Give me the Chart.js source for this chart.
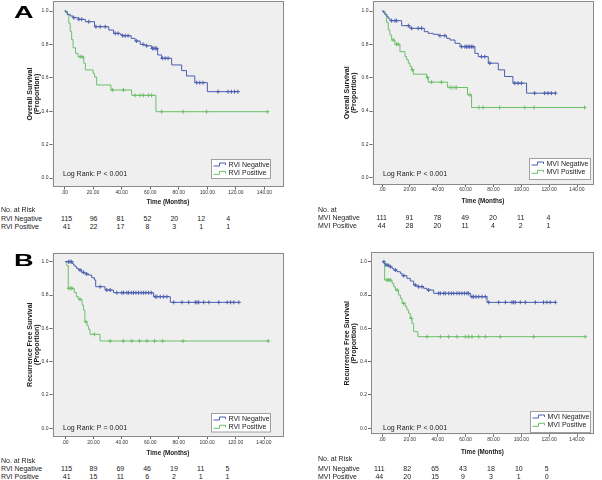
<!DOCTYPE html>
<html><head><meta charset="utf-8">
<script src="https://cdn.jsdelivr.net/npm/chart.js"></script>
<style>
html,body{margin:0;padding:0;background:#fff;}
#wrap{position:relative;width:602px;height:480px;overflow:hidden;font-family:"Liberation Sans",Arial,sans-serif;}
canvas{position:absolute;}
.t{position:absolute;font-size:7px;line-height:7px;color:#1a1a1a;white-space:nowrap;}
.n{position:absolute;font-size:7px;line-height:7px;width:20px;text-align:center;color:#1a1a1a;}
.letter{position:absolute;font-weight:bold;font-size:17px;line-height:17px;transform-origin:left top;transform:scaleX(1.6);color:#000;}
</style></head><body><div id="wrap"></div>
<script>
// ---------- axis ticks ----------
const xTickValues = [0, 20, 40, 60, 80, 100, 120, 140];
const xTickLabels = ['.00', '20.00', '40.00', '60.00', '80.00', '100.00', '120.00', '140.00'];
const yTickValues = [0, 0.2, 0.4, 0.6, 0.8, 1.0];
const yTickLabels = ['0.0', '0.2', '0.4', '0.6', '0.8', '1.0'];

// ---------- A: Overall survival, RVI ----------
const osRviNegTime = [0, 1, 2, 4, 6, 10, 14.6, 21, 31, 34.4, 39, 40.2, 46.7, 49.4, 53, 56.4, 61, 65.2, 68, 75, 82, 85.4, 91.2, 100, 121.4];
const osRviNegSurv = [1, 0.99, 0.98, 0.97, 0.96, 0.95, 0.936, 0.906, 0.886, 0.866, 0.86, 0.852, 0.836, 0.82, 0.80, 0.792, 0.776, 0.737, 0.717, 0.677, 0.643, 0.611, 0.571, 0.517, 0.517];
const osRviNegCens = [6.5, 10, 12, 17, 22, 25, 28.5, 35.5, 37.5, 40.8, 42.5, 44.5, 50.5, 55, 57.5, 61.5, 62.5, 63.5, 64.5, 68.5, 70.5, 72.5, 92.5, 94.7, 97, 107.5, 114.5, 116.8, 119.1, 121.4];
const osRviPosTime = [0, 2, 3, 4, 5, 6, 7.7, 9.5, 13.5, 14.6, 20, 21, 22.5, 32.5, 47, 64, 142];
const osRviPosSurv = [1, 0.976, 0.927, 0.878, 0.829, 0.78, 0.747, 0.726, 0.687, 0.647, 0.627, 0.605, 0.557, 0.527, 0.495, 0.397, 0.397];
const osRviPosCens = [11, 12.5, 33.5, 41.3, 49.4, 52.9, 55.2, 58.7, 61, 68, 83, 99.4, 142];

// ---------- A: Overall survival, MVI ----------
const osMviNegTime = [0, 1, 2.2, 3.5, 4.5, 5.7, 14.1, 20, 30.4, 33.2, 36.8, 40.4, 46.4, 48.8, 52.4, 56, 66.7, 69.1, 76.3, 83.5, 88, 94, 103.8, 124.5];
const osMviNegSurv = [1, 0.99, 0.98, 0.966, 0.956, 0.942, 0.912, 0.896, 0.876, 0.866, 0.86, 0.852, 0.836, 0.826, 0.806, 0.786, 0.746, 0.726, 0.687, 0.647, 0.607, 0.567, 0.507, 0.507];
const osMviNegCens = [6.9, 9.3, 10.5, 18.9, 21.3, 26, 28.4, 41.6, 45.1, 57.1, 59.5, 60.7, 61.9, 63, 64.3, 65.4, 71.4, 73.8, 77.4, 95.3, 97.7, 100.1, 109.6, 116.8, 119.2, 121.6, 124.5];
const osMviPosTime = [0, 2, 3.3, 4.5, 5.7, 6.9, 9.3, 12.9, 16.5, 17.7, 18.9, 20.1, 21.3, 22.5, 32, 33.2, 47.1, 61.4, 64.3, 145.4];
const osMviPosSurv = [1, 0.977, 0.932, 0.886, 0.856, 0.826, 0.80, 0.756, 0.726, 0.707, 0.687, 0.667, 0.647, 0.621, 0.601, 0.573, 0.541, 0.497, 0.421, 0.421];
const osMviPosCens = [8, 10.5, 11.7, 21.8, 32.7, 35.6, 42.7, 48.8, 50.4, 52.4, 53.6, 63.1, 69.6, 72.6, 84.5, 102.5, 109.2, 145.4];

// ---------- B: Recurrence free survival, RVI ----------
const rfsRviNegTime = [0, 5, 6, 7.1, 8.2, 9.4, 11.8, 14.1, 16.5, 18.8, 20.7, 21.6, 28.2, 34.1, 62.3, 74.1, 122.3];
const rfsRviNegSurv = [1, 0.99, 0.98, 0.97, 0.96, 0.95, 0.936, 0.926, 0.92, 0.904, 0.89, 0.85, 0.83, 0.814, 0.79, 0.756, 0.756];
const rfsRviNegCens = [2.35, 3.5, 4.7, 10.6, 12.9, 15.3, 24.7, 29.4, 31.8, 36.5, 40, 41.2, 43.5, 44.7, 46.6, 48.2, 49.9, 51.7, 53.6, 55.3, 56.9, 58.8, 60.7, 63.5, 64.7, 67, 69.4, 71.7, 76.5, 82.3, 87, 91.7, 92.9, 94.1, 97.6, 101.2, 108.2, 114.1, 116.5, 118.8, 122.3];
const rfsRviPosTime = [0, 1.2, 2.3, 6.5, 8, 9.4, 12, 13, 14, 15.5, 16.5, 17.6, 24.7, 143];
const rfsRviPosSurv = [1, 0.976, 0.84, 0.815, 0.79, 0.774, 0.74, 0.71, 0.64, 0.615, 0.594, 0.564, 0.524, 0.524];
const rfsRviPosCens = [2.6, 4, 4.9, 10.6, 14.6, 20.7, 31.8, 41, 47, 52.5, 57.6, 63, 68.7, 83, 143];

// ---------- B: Recurrence free survival, MVI ----------
const rfsMviNegTime = [0, 1.5, 2.4, 4.8, 7.2, 8.4, 10.8, 13.2, 14.4, 17.9, 20.3, 22.7, 25.1, 29.9, 32.3, 37.1, 63.4, 75.4, 124.4];
const rfsMviNegSurv = [1, 0.99, 0.98, 0.97, 0.96, 0.95, 0.94, 0.93, 0.916, 0.9, 0.884, 0.86, 0.85, 0.84, 0.83, 0.81, 0.79, 0.756, 0.756];
const rfsMviNegCens = [1.4, 2.9, 4.3, 6, 9.6, 15.6, 23.9, 26.3, 28.7, 33.5, 40.7, 41.9, 44.3, 45.5, 47.9, 49.8, 51.5, 53.8, 55.5, 57.4, 59.3, 61, 62.2, 64.6, 65.8, 67.5, 69.4, 71.8, 74.2, 76.6, 83.8, 88.6, 93.3, 94.5, 95.7, 99.3, 102.9, 110.1, 116, 118.4, 120.8, 124.4];
const rfsMviPosTime = [0, 1.9, 7.2, 8.4, 9.6, 11.9, 13.2, 14.4, 16.7, 17.9, 19.1, 20.3, 21.5, 22.7, 25.8, 145.9];
const rfsMviPosSurv = [1, 0.89, 0.87, 0.85, 0.83, 0.80, 0.78, 0.75, 0.73, 0.71, 0.69, 0.66, 0.63, 0.58, 0.55, 0.55];
const rfsMviPosCens = [3.6, 4.8, 6, 10.8, 15.6, 21.1, 32.3, 41.9, 47.9, 53.8, 59.8, 62.2, 64.6, 69.4, 74.2, 84.9, 108.9, 145.9];

// ---------- numbers at risk ----------
const osRviRiskNeg = [115, 96, 81, 52, 20, 12, 4];
const osRviRiskPos = [41, 22, 17, 8, 3, 1, 1];
const osMviRiskNeg = [111, 91, 78, 49, 20, 11, 4];
const osMviRiskPos = [44, 28, 20, 11, 4, 2, 1];
const rfsRviRiskNeg = [115, 89, 69, 46, 19, 11, 5];
const rfsRviRiskPos = [41, 15, 11, 6, 2, 1, 1];
const rfsMviRiskNeg = [111, 82, 65, 43, 18, 10, 5];
const rfsMviRiskPos = [44, 20, 15, 9, 3, 1, 0];

const BLUE = '#4b5eae';
const GREEN = '#6dbf6a';

const panels = [
  { letter: 'A', yTitle: ['Overall Survival', '(Proportion)'], logRank: 'Log Rank: P < 0.001',
    labels: ['RVI Negative', 'RVI Positive'], riskHead: 'No. at Risk',
    neg: [osRviNegTime, osRviNegSurv, osRviNegCens], pos: [osRviPosTime, osRviPosSurv, osRviPosCens],
    riskNeg: osRviRiskNeg, riskPos: osRviRiskPos,
    g: { canvas: {l: 0, t: -9, w: 300, h: 219}, plot: {l: 52.5, r: 283.5, t: 1, b: 187},
         x0: 64.5, x140: 264.5, y1: 11, y0: 178, xTitleY: 202, yTitleX: 30,
         legend: {x: 211, y: 159, w: 59, h: 19}, logRank: {x: 63, y: 174.3},
         letterPos: {x: 14, y: 4}, table: {labelX: 1, rows: [209.7, 218.7, 226.7], nx: 66.7, step: 26.9} } },
  { letter: '', yTitle: ['Overall Survival', '(Proportion)'], logRank: 'Log Rank: P < 0.001',
    labels: ['MVI Negative', 'MVI Positive'], riskHead: 'No. at',
    neg: [osMviNegTime, osMviNegSurv, osMviNegCens], pos: [osMviPosTime, osMviPosSurv, osMviPosCens],
    riskNeg: osMviRiskNeg, riskPos: osMviRiskPos,
    g: { canvas: {l: 300, t: -9, w: 302, h: 219}, plot: {l: 372.5, r: 593.5, t: 1, b: 184.5},
         x0: 382, x140: 577, y1: 11, y0: 177.7, xTitleY: 201.7, yTitleX: 346.7,
         legend: {x: 529, y: 158, w: 61, h: 21}, logRank: {x: 383, y: 174.3},
         table: {labelX: 318, rows: [209.3, 217.5, 225.8], nx: 381.7, step: 27.8} } },
  { letter: 'B', yTitle: ['Recurrence Free Survival', '(Proportion)'], logRank: 'Log Rank: P = 0.001',
    labels: ['RVI Negative', 'RVI Positive'], riskHead: 'No. at Risk',
    neg: [rfsRviNegTime, rfsRviNegSurv, rfsRviNegCens], pos: [rfsRviPosTime, rfsRviPosSurv, rfsRviPosCens],
    riskNeg: rfsRviRiskNeg, riskPos: rfsRviRiskPos,
    g: { canvas: {l: 0, t: 242, w: 300, h: 218}, plot: {l: 52.5, r: 283.5, t: 252.7, b: 436.7},
         x0: 65, x140: 264, y1: 261.7, y0: 428.3, xTitleY: 453, yTitleX: 30,
         legend: {x: 211, y: 413, w: 59, h: 18.5}, logRank: {x: 63, y: 428.3},
         letterPos: {x: 14, y: 251.5}, table: {labelX: 1, rows: [460, 468.7, 476.5], nx: 66.7, step: 26.8} } },
  { letter: '', yTitle: ['Recurrence Free Survival', '(Proportion)'], logRank: 'Log Rank: P < 0.001',
    labels: ['MVI Negative', 'MVI Positive'], riskHead: 'No. at Risk',
    neg: [rfsMviNegTime, rfsMviNegSurv, rfsMviNegCens], pos: [rfsMviPosTime, rfsMviPosSurv, rfsMviPosCens],
    riskNeg: rfsMviRiskNeg, riskPos: rfsMviRiskPos,
    g: { canvas: {l: 300, t: 242, w: 302, h: 218}, plot: {l: 371, r: 594, t: 252.3, b: 434.3},
         x0: 382, x140: 577, y1: 261.7, y0: 428.3, xTitleY: 452, yTitleX: 347.5,
         legend: {x: 530, y: 411, w: 60, h: 21}, logRank: {x: 383, y: 428.3},
         table: {labelX: 318, rows: [458.7, 468, 476.7], nx: 379.3, step: 27.9} } }
];

function stepPoints(times, surv) { return times.map((t, i) => ({x: t, y: surv[i]})); }
function censorPoints(times, surv, cens) {
  return cens.map(c => { let s = surv[0]; for (let i = 0; i < times.length; i++) { if (times[i] <= c) s = surv[i]; } return {x: c, y: s}; });
}

const kmPlugin = {
  id: 'km',
  beforeDatasetsDraw(chart) {
    const {ctx, chartArea: a} = chart;
    ctx.save(); ctx.fillStyle = '#efefef';
    ctx.fillRect(a.left, a.top, a.right - a.left, a.bottom - a.top);
    ctx.restore();
  },
  afterDraw(chart, args, o) {
    const {ctx, chartArea: a} = chart;
    ctx.save();
    ctx.strokeStyle = '#8a8a8a'; ctx.lineWidth = 1;
    ctx.strokeRect(Math.round(a.left) + 0.5, Math.round(a.top) + 0.5, Math.round(a.right - a.left) - 1, Math.round(a.bottom - a.top) - 1);
    ctx.fillStyle = '#1a1a1a'; ctx.font = '7px "Liberation Sans", Arial, sans-serif';
    ctx.textBaseline = 'middle'; ctx.textAlign = 'left';
    ctx.fillText(o.logRank, o.lr.x, o.lr.y);
    const L = o.legend;
    ctx.fillStyle = '#ffffff'; ctx.fillRect(L.x + 0.5, L.y + 0.5, L.w, L.h);
    ctx.strokeStyle = '#a0a0a0'; ctx.strokeRect(L.x + 0.5, L.y + 0.5, L.w, L.h);
    const lines = chart.data.datasets.filter(d => !d.isCensor);
    lines.forEach((d, i) => {
      const cy = L.y + 5.5 + i * 8.3;
      const x = L.x + 2.5;
      ctx.strokeStyle = d.borderColor; ctx.lineWidth = 1;
      ctx.beginPath();
      ctx.moveTo(x, cy + 1.5); ctx.lineTo(x + 6, cy + 1.5); ctx.lineTo(x + 6, cy - 1.5);
      ctx.lineTo(x + 12, cy - 1.5); ctx.lineTo(x + 12, cy + 0.5);
      ctx.stroke();
      ctx.fillStyle = '#1a1a1a';
      ctx.fillText(d.label, x + 15, cy + 0.5);
    });
    ctx.restore();
  }
};

const wrap = document.getElementById('wrap');

function addText(cls, text, x, y) {
  const d = document.createElement('div');
  d.className = cls; d.textContent = text;
  d.style.left = x + 'px'; d.style.top = y + 'px';
  wrap.appendChild(d);
}

panels.forEach(p => {
  const g = p.g, c = g.canvas, pl = g.plot;
  const cv = document.createElement('canvas');
  cv.width = c.w; cv.height = c.h;
  cv.style.left = c.l + 'px'; cv.style.top = c.t + 'px';
  cv.style.width = c.w + 'px'; cv.style.height = c.h + 'px';
  wrap.appendChild(cv);

  const ppx = (g.x140 - g.x0) / 140;
  const ppy = (g.y0 - g.y1);
  const xMin = (pl.l - g.x0) / ppx, xMax = 140 + (pl.r - g.x140) / ppx;
  const yMax = 1 + (g.y1 - pl.t) / ppy, yMin = -(pl.b - g.y0) / ppy;
  const yAxisW = pl.l - c.l;
  const xAxisH = c.t + c.h - pl.b;
  const xTitleLH = 6.3;
  const yTitleLH = 7;

  const ds = [
    {label: p.labels[0], data: stepPoints(p.neg[0], p.neg[1]), borderColor: BLUE, borderWidth: 1, pointRadius: 0, stepped: true, fill: false},
    {label: p.labels[1], data: stepPoints(p.pos[0], p.pos[1]), borderColor: GREEN, borderWidth: 1, pointRadius: 0, stepped: true, fill: false},
    {label: 'c1', isCensor: true, data: censorPoints(p.neg[0], p.neg[1], p.neg[2]), showLine: false, pointStyle: 'cross', pointRadius: 2, pointBorderWidth: 1, pointBorderColor: BLUE, borderColor: BLUE, pointBackgroundColor: BLUE},
    {label: 'c2', isCensor: true, data: censorPoints(p.pos[0], p.pos[1], p.pos[2]), showLine: false, pointStyle: 'cross', pointRadius: 2, pointBorderWidth: 1, pointBorderColor: GREEN, borderColor: GREEN, pointBackgroundColor: GREEN}
  ];

  new Chart(cv, {
    type: 'line',
    data: {datasets: ds},
    plugins: [kmPlugin],
    options: {
      responsive: false, animation: false, devicePixelRatio: 1,
      layout: {padding: {left: 0, top: pl.t - c.t, right: c.l + c.w - pl.r, bottom: 0}},
      plugins: {
        legend: {display: false}, tooltip: {enabled: false},
        km: {logRank: p.logRank, lr: {x: g.logRank.x - c.l, y: g.logRank.y - c.t},
             legend: {x: g.legend.x - c.l, y: g.legend.y - c.t, w: g.legend.w, h: g.legend.h}}
      },
      scales: {
        x: {
          type: 'linear', min: xMin, max: xMax,
          afterBuildTicks: s => { s.ticks = xTickValues.map(v => ({value: v})); },
          afterFit: s => { s.height = xAxisH; s.paddingLeft = 0; s.paddingRight = 0; },
          ticks: {callback: (v, i) => xTickLabels[i], font: {size: 5, family: '"Liberation Sans", Arial, sans-serif'}, color: '#333', padding: 0, maxRotation: 0, autoSkip: false},
          grid: {display: true, drawOnChartArea: false, drawTicks: true, tickLength: 2.5, color: '#666'},
          border: {display: false},
          title: {display: true, text: 'Time (Months)', font: {size: xTitleLH, weight: 'bold', family: '"Liberation Sans", Arial, sans-serif', lineHeight: 1}, color: '#1a1a1a',
                  padding: {top: 0, bottom: (c.t + c.h - g.xTitleY) - xTitleLH / 2}}
        },
        y: {
          type: 'linear', min: yMin, max: yMax,
          afterBuildTicks: s => { s.ticks = yTickValues.map(v => ({value: v})); },
          afterFit: s => { s.width = yAxisW; s.paddingTop = 0; s.paddingBottom = 0; },
          ticks: {callback: (v, i) => yTickLabels[i], font: {size: 5, family: '"Liberation Sans", Arial, sans-serif'}, color: '#333', padding: 1, autoSkip: false},
          grid: {display: true, drawOnChartArea: false, drawTicks: true, tickLength: 3, color: '#666'},
          border: {display: false},
          title: {display: true, text: p.yTitle, font: {size: yTitleLH, weight: 'bold', family: '"Liberation Sans", Arial, sans-serif', lineHeight: 1}, color: '#1a1a1a',
                  padding: {top: g.yTitleX - c.l - yTitleLH / 2, bottom: 0}}
        }
      }
    }
  });

  if (p.letter) addText('letter', p.letter, g.letterPos.x, g.letterPos.y);
  const T = g.table;
  addText('t', p.riskHead, T.labelX, T.rows[0] - 3.5);
  addText('t', p.labels[0], T.labelX, T.rows[1] - 3.5);
  addText('t', p.labels[1], T.labelX, T.rows[2] - 3.5);
  p.riskNeg.forEach((v, i) => addText('n', String(v), T.nx + i * T.step - 10, T.rows[1] - 3.5));
  p.riskPos.forEach((v, i) => addText('n', String(v), T.nx + i * T.step - 10, T.rows[2] - 3.5));
});
</script></body></html>
